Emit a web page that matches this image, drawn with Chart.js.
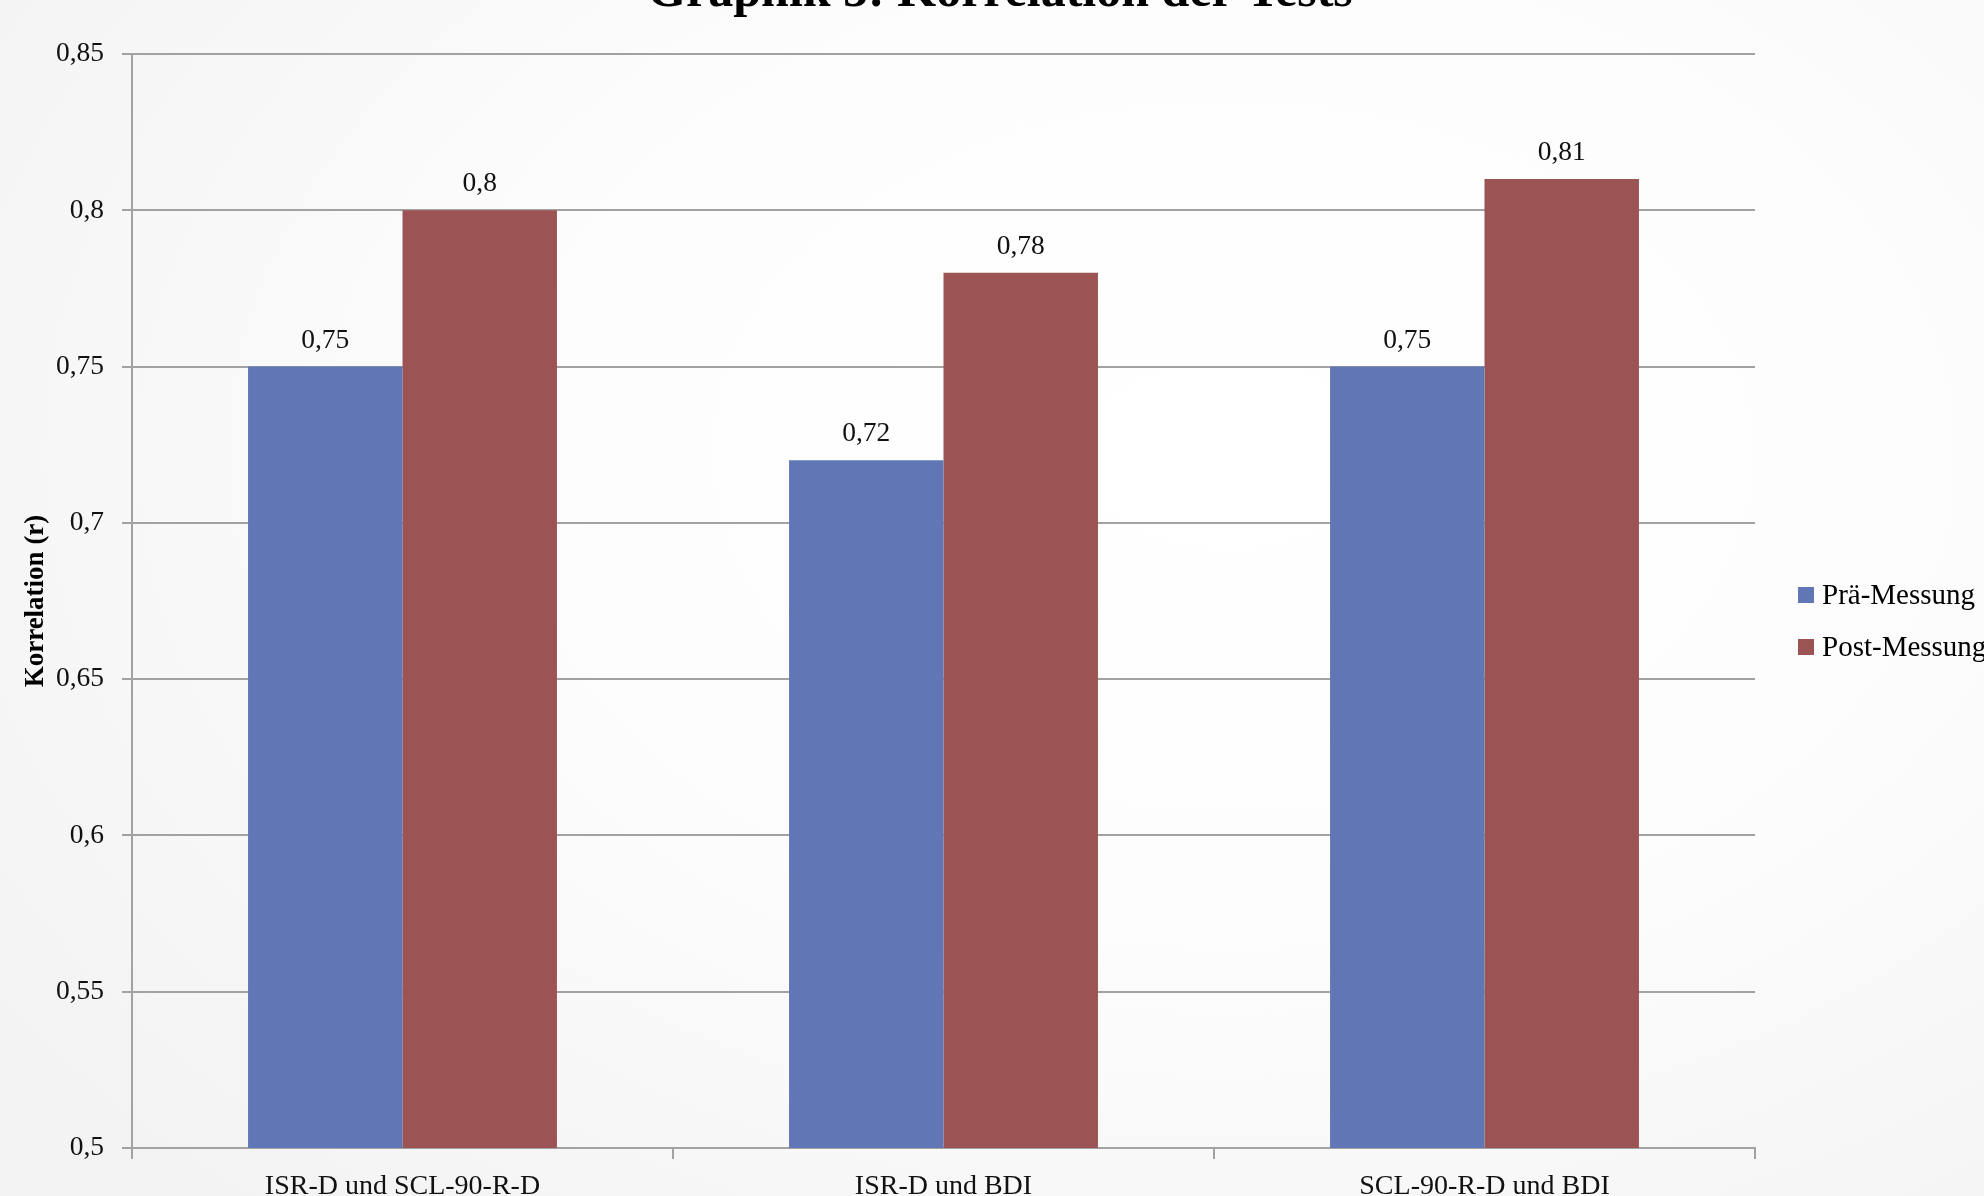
<!DOCTYPE html>
<html>
<head>
<meta charset="utf-8">
<script src="https://cdn.jsdelivr.net/npm/chart.js@4/dist/chart.umd.min.js"></script>
<style>
  html, body { margin: 0; padding: 0; }
  body {
    width: 1984px; height: 1196px; overflow: hidden;
    background: radial-gradient(ellipse 75% 85% at 62% 38%, #ffffff 0%, #fdfdfd 45%, #f3f3f3 100%);
  }
  #wrap { position: relative; width: 1984px; height: 1196px; }
</style>
</head>
<body>
<div id="wrap"><canvas id="chart" width="1984" height="1196"></canvas></div>
<script>
// Korrelationen der Testverfahren, Prä- und Post-Messung
const categories = ['ISR-D und SCL-90-R-D', 'ISR-D und BDI', 'SCL-90-R-D und BDI'];
const seriesNames = ['Prä-Messung', 'Post-Messung'];
const praeWerte = [0.75, 0.72, 0.75];
const postWerte = [0.80, 0.78, 0.81];
const yTicks = [0.5, 0.55, 0.6, 0.65, 0.7, 0.75, 0.8, 0.85];
const titleText = 'Graphik 5: Korrelation der Tests';
const yTitleText = 'Korrelation (r)';

const FONT = '"Liberation Serif", "Times New Roman", serif';
const BLUE = '#6177b5';
const RED = '#9c5354';
const GRID = '#a2a2a2';

const deComma = v => String(Math.round(v * 100) / 100).replace('.', ',');

// value labels above each bar
const valueLabels = {
  id: 'valueLabels',
  afterDatasetsDraw(chart) {
    const ctx = chart.ctx;
    ctx.save();
    ctx.font = '27.5px ' + FONT;
    ctx.fillStyle = '#111';
    ctx.textAlign = 'center';
    ctx.textBaseline = 'alphabetic';
    chart.data.datasets.forEach((ds, i) => {
      chart.getDatasetMeta(i).data.forEach((bar, j) => {
        ctx.fillText(deComma(ds.data[j]), bar.x, bar.y - 19);
      });
    });
    ctx.restore();
  }
};

// title at the top and legend on the right
const decorations = {
  id: 'decorations',
  afterDraw(chart) {
    const ctx = chart.ctx;
    ctx.save();
    ctx.fillStyle = '#000';
    ctx.font = 'bold 50px ' + FONT;
    ctx.textAlign = 'center';
    ctx.textBaseline = 'alphabetic';
    ctx.fillText(titleText, 1000, 6);

    ctx.font = '29px ' + FONT;
    ctx.textAlign = 'left';
    ctx.textBaseline = 'middle';
    const rows = [595, 647];
    chart.data.datasets.forEach((ds, i) => {
      ctx.fillStyle = ds.backgroundColor;
      ctx.fillRect(1798, rows[i] - 8, 16, 16);
      ctx.fillStyle = '#000';
      ctx.fillText(ds.label, 1822, rows[i] + 1);
    });
    ctx.restore();
  }
};

new Chart(document.getElementById('chart'), {
  type: 'bar',
  data: {
    labels: categories,
    datasets: [
      { label: seriesNames[0], data: praeWerte, backgroundColor: BLUE },
      { label: seriesNames[1], data: postWerte, backgroundColor: RED }
    ]
  },
  options: {
    responsive: false,
    animation: false,
    devicePixelRatio: 1,
    layout: { padding: { top: 54, right: 229, left: 0, bottom: 0 } },
    datasets: { bar: { categoryPercentage: 0.571, barPercentage: 1.0, borderWidth: 0 } },
    plugins: {
      legend: { display: false },
      title: { display: false },
      tooltip: { enabled: false }
    },
    scales: {
      x: {
        offset: true,
        grid: { drawOnChartArea: false, offset: true, color: GRID, lineWidth: 2, tickLength: 11 },
        border: { color: GRID, width: 2 },
        ticks: { font: { family: FONT, size: 28 }, color: '#111', padding: 11, maxRotation: 0 },
        afterFit(scale) { scale.height = 48; }
      },
      y: {
        min: 0.5,
        max: 0.85,
        afterBuildTicks(scale) { scale.ticks = yTicks.map(v => ({ value: v })); },
        grid: { color: GRID, lineWidth: 2, tickLength: 10 },
        border: { color: GRID, width: 2 },
        ticks: {
          font: { family: FONT, size: 27.5 }, color: '#111', padding: 18,
          callback: v => deComma(v)
        },
        title: {
          display: true, text: yTitleText, color: '#000',
          font: { family: FONT, size: 27, weight: 'bold' },
          padding: { top: 20, bottom: 0 }
        },
        afterFit(scale) { scale.width = 132; }
      }
    }
  },
  plugins: [valueLabels, decorations]
});
</script>
</body>
</html>
